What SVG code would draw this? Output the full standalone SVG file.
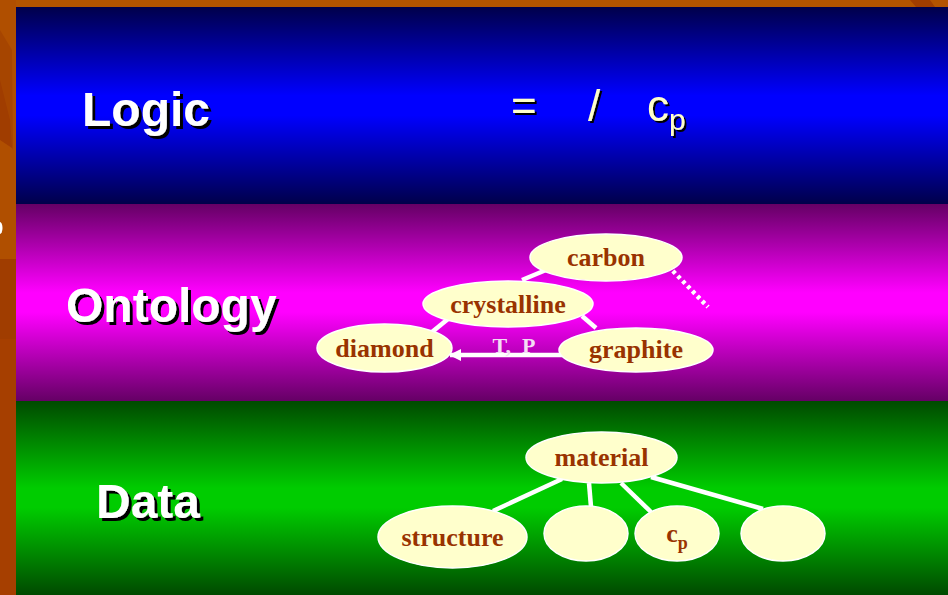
<svg xmlns="http://www.w3.org/2000/svg" width="948" height="595" viewBox="0 0 948 595">
<defs>
<linearGradient id="gBlue" x1="0" y1="0" x2="0" y2="1">
<stop offset="0" stop-color="#00004a"/><stop offset="0.45" stop-color="#0000ff"/><stop offset="0.55" stop-color="#0000ff"/><stop offset="1" stop-color="#00004a"/>
</linearGradient>
<linearGradient id="gMag" x1="0" y1="0" x2="0" y2="1">
<stop offset="0" stop-color="#650065"/><stop offset="0.45" stop-color="#ff00ff"/><stop offset="0.55" stop-color="#ff00ff"/><stop offset="1" stop-color="#650065"/>
</linearGradient>
<linearGradient id="gGreen" x1="0" y1="0" x2="0" y2="1">
<stop offset="0" stop-color="#004a00"/><stop offset="0.45" stop-color="#00cc00"/><stop offset="0.55" stop-color="#00cc00"/><stop offset="1" stop-color="#004a00"/>
</linearGradient>
<filter id="sh" x="-10%" y="-10%" width="130%" height="140%">
<feDropShadow dx="3" dy="3" stdDeviation="0.4" flood-color="#000000" flood-opacity="1"/>
</filter>
<filter id="sh2" x="-10%" y="-10%" width="130%" height="140%">
<feDropShadow dx="2" dy="2" stdDeviation="0.4" flood-color="#000000" flood-opacity="1"/>
</filter>
<marker id="arr" viewBox="0 0 12 12" refX="11" refY="6" markerWidth="12" markerHeight="12" markerUnits="userSpaceOnUse" orient="auto">
<path d="M0,0 L12,6 L0,12 z" fill="#ffffff"/>
</marker>
<style>
.node{fill:#ffffcc;stroke:#ffffff;stroke-width:1.5}
.nt{font-family:"Liberation Serif","Times New Roman",serif;font-weight:bold;font-size:26px;fill:#993300;text-anchor:middle}
.title{font-family:"Liberation Sans",Arial,sans-serif;font-weight:bold;font-size:48px;fill:#ffffff;filter:url(#sh)}
.f{font-family:"Liberation Sans",Arial,sans-serif;font-size:44px;fill:#ffffcc;filter:url(#sh2)}
.edge{stroke:#ffffff;stroke-width:4.5;fill:none}
</style>
</defs>
<rect x="0" y="0" width="948" height="595" fill="#a63f00"/>
<rect x="0" y="0" width="948" height="7" fill="#b35400"/>
<polygon points="910,0 930,0 935,7 916,7" fill="#a03d00"/>
<rect x="0" y="0" width="16" height="260" fill="#b04f00"/>
<polygon points="0,30 12,50 13,150 0,120" fill="#a64500"/>
<polygon points="0,80 10,120 12,148 0,140" fill="#a03d00"/>
<rect x="0" y="259" width="16" height="80" fill="#a03d00"/>
<ellipse cx="0" cy="228" rx="2.5" ry="6" fill="#ffffff"/>
<rect x="16" y="7" width="932" height="197" fill="url(#gBlue)"/>
<rect x="16" y="204" width="932" height="197" fill="url(#gMag)"/>
<rect x="16" y="401" width="932" height="194" fill="url(#gGreen)"/>

<g id="label-logic">
<text class="title" x="82" y="126">Logic</text>
</g>
<g id="label-ontology">
<text class="title" x="66" y="322">Ontology</text>
</g>
<g id="label-data">
<text class="title" x="96" y="518">Data</text>
</g>
<g id="formula">
<text class="f" x="511" y="121">=</text>
<text class="f" x="588" y="121">/</text>
<text class="f" x="647" y="121">c<tspan font-size="30" dy="9">p</tspan></text>
</g>

<g id="connectors">
<line class="edge" x1="522" y1="280" x2="546" y2="270"/>
<line class="edge" x1="432" y1="332" x2="448" y2="319"/>
<line class="edge" x1="582" y1="316" x2="596" y2="328"/>
<line class="edge" x1="562" y1="355" x2="450" y2="355" stroke-width="3.5" marker-end="url(#arr)"/>
<line class="edge" x1="668" y1="266" x2="708" y2="307" stroke-width="3.5" stroke-dasharray="3.5,3.5"/>
<line class="edge" x1="562" y1="479" x2="493" y2="511"/>
<line class="edge" x1="589" y1="483" x2="591" y2="507"/>
<line class="edge" x1="621" y1="483" x2="651" y2="512"/>
<line class="edge" x1="651" y1="477" x2="763" y2="509"/>
</g>
<g id="edge-label-tp">
<text x="514" y="353" xml:space="preserve" font-family="'Liberation Serif','Times New Roman',serif" font-weight="bold" font-size="22" fill="#f4dcf4" text-anchor="middle">T,  P</text>
</g>

<g id="node-carbon">
<ellipse class="node" cx="606" cy="257.5" rx="76" ry="23.5"/>
<text class="nt" x="606" y="266">carbon</text>
</g>
<g id="node-crystalline">
<ellipse class="node" cx="508" cy="304" rx="85" ry="23"/>
<text class="nt" x="508" y="313">crystalline</text>
</g>
<g id="node-diamond">
<ellipse class="node" cx="384.5" cy="348" rx="67.5" ry="24"/>
<text class="nt" x="384.5" y="357">diamond</text>
</g>
<g id="node-graphite">
<ellipse class="node" cx="636" cy="350" rx="77" ry="22"/>
<text class="nt" x="636" y="358">graphite</text>
</g>
<g id="node-material">
<ellipse class="node" cx="601.5" cy="457.5" rx="75.5" ry="25.5"/>
<text class="nt" x="601.5" y="466">material</text>
</g>
<g id="node-structure">
<ellipse class="node" cx="452.5" cy="537" rx="74.5" ry="31"/>
<text class="nt" x="452.5" y="546">structure</text>
</g>
<g id="node-blank1">
<ellipse class="node" cx="586" cy="533.5" rx="42" ry="27.5"/>
</g>
<g id="node-cp">
<ellipse class="node" cx="677" cy="533.5" rx="42" ry="27.5"/>
<text class="nt" x="677" y="542">c<tspan font-size="18" dy="7">p</tspan></text>
</g>
<g id="node-blank2">
<ellipse class="node" cx="783" cy="533.5" rx="42" ry="27.5"/>
</g>
</svg>
